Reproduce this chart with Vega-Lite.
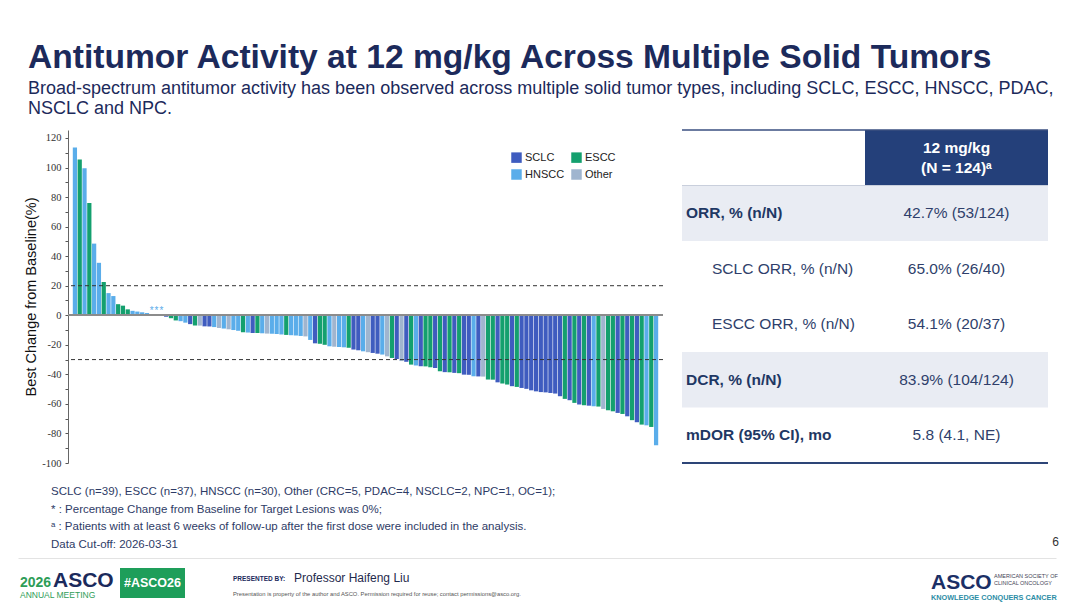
{
  "$schema": "https://vega.github.io/schema/vega-lite/v6.json",
  "background": "white",
  "padding": {"left": 20, "top": 40, "right": 12, "bottom": 6},
  "config": {
    "font": "Liberation Sans",
    "view": {"stroke": null},
    "axisY": {"labelOverlap": false, "labelSeparation": 0, "labelFont": "Liberation Serif", "labelFontSize": 10.5, "labelColor": "#333",
      "tickSize": 3, "tickColor": "#555", "domainColor": "#666", "labelPadding": 4, "titleFont": "Liberation Sans", "titleFontSize": 14.5,
      "titleFontWeight": "normal", "titleColor": "#111", "titlePadding": 3, "grid": false}
  },
  "title": {
    "text": "Antitumor Activity at 12 mg/kg Across Multiple Solid Tumors",
    "subtitle": ["Broad-spectrum antitumor activity has been observed across multiple solid tumor types, including SCLC, ESCC, HNSCC, PDAC,", "NSCLC and NPC."],
    "anchor": "start",
    "frame": "bounds",
    "dx": 8,
    "font": "Liberation Sans",
    "fontSize": 33.6,
    "fontWeight": "bold",
    "color": "#1C2A5B",
    "subtitleFont": "Liberation Sans",
    "subtitleFontSize": 18,
    "subtitleColor": "#1C2A5B",
    "subtitleLineHeight": 20,
    "subtitlePadding": 6,
    "offset": 11
  },
  "spacing": 14,
  "vconcat": [
    {
      "spacing": 17,
      "hconcat": [
        {
          "width": 595,
          "height": 333,
          "data": {"values": [
            {"id":1,"tumor":"HNSCC","change":113.5},{"id":2,"tumor":"ESCC","change":105.5},{"id":3,"tumor":"HNSCC","change":99.5},{"id":4,"tumor":"ESCC","change":76},
            {"id":5,"tumor":"HNSCC","change":48.5},{"id":6,"tumor":"HNSCC","change":35.5},{"id":7,"tumor":"ESCC","change":22.5},{"id":8,"tumor":"HNSCC","change":15},
            {"id":9,"tumor":"HNSCC","change":13},{"id":10,"tumor":"ESCC","change":7.5},{"id":11,"tumor":"ESCC","change":6.5},{"id":12,"tumor":"ESCC","change":4},
            {"id":13,"tumor":"HNSCC","change":3},{"id":14,"tumor":"HNSCC","change":2.5},{"id":15,"tumor":"HNSCC","change":2},{"id":16,"tumor":"HNSCC","change":1.5},
            {"id":17,"tumor":"HNSCC","change":0},{"id":18,"tumor":"SCLC","change":0},{"id":19,"tumor":"HNSCC","change":0},
            {"id":20,"tumor":"SCLC","change":-1},{"id":21,"tumor":"ESCC","change":-2},{"id":22,"tumor":"ESCC","change":-3.5},{"id":23,"tumor":"HNSCC","change":-4},
            {"id":24,"tumor":"HNSCC","change":-5},{"id":25,"tumor":"SCLC","change":-6},{"id":26,"tumor":"ESCC","change":-7},{"id":27,"tumor":"Other","change":-7},
            {"id":28,"tumor":"SCLC","change":-7.5},{"id":29,"tumor":"SCLC","change":-7.6},{"id":30,"tumor":"HNSCC","change":-8},{"id":31,"tumor":"Other","change":-8.6},
            {"id":32,"tumor":"HNSCC","change":-9},{"id":33,"tumor":"Other","change":-9.5},{"id":34,"tumor":"HNSCC","change":-10},{"id":35,"tumor":"HNSCC","change":-10.5},
            {"id":36,"tumor":"ESCC","change":-11.5},{"id":37,"tumor":"HNSCC","change":-11.7},{"id":38,"tumor":"SCLC","change":-12},{"id":39,"tumor":"ESCC","change":-12},
            {"id":40,"tumor":"HNSCC","change":-12.2},{"id":41,"tumor":"Other","change":-12.4},{"id":42,"tumor":"HNSCC","change":-12.5},{"id":43,"tumor":"HNSCC","change":-12.7},
            {"id":44,"tumor":"HNSCC","change":-13},{"id":45,"tumor":"ESCC","change":-13.3},{"id":46,"tumor":"HNSCC","change":-13.5},{"id":47,"tumor":"HNSCC","change":-13.7},
            {"id":48,"tumor":"HNSCC","change":-14},{"id":49,"tumor":"Other","change":-14.3},{"id":50,"tumor":"HNSCC","change":-16.7},{"id":51,"tumor":"SCLC","change":-19},
            {"id":52,"tumor":"ESCC","change":-19.3},{"id":53,"tumor":"ESCC","change":-20},{"id":54,"tumor":"HNSCC","change":-21},{"id":55,"tumor":"Other","change":-21.3},
            {"id":56,"tumor":"HNSCC","change":-21.5},{"id":57,"tumor":"HNSCC","change":-21.7},{"id":58,"tumor":"ESCC","change":-22},{"id":59,"tumor":"SCLC","change":-23.2},
            {"id":60,"tumor":"SCLC","change":-23.7},{"id":61,"tumor":"HNSCC","change":-24.4},{"id":62,"tumor":"Other","change":-25},{"id":63,"tumor":"SCLC","change":-25.5},
            {"id":64,"tumor":"SCLC","change":-26},{"id":65,"tumor":"HNSCC","change":-26.6},{"id":66,"tumor":"Other","change":-27.8},{"id":67,"tumor":"ESCC","change":-28.9},
            {"id":68,"tumor":"SCLC","change":-29.6},{"id":69,"tumor":"Other","change":-31},{"id":70,"tumor":"SCLC","change":-31.5},{"id":71,"tumor":"ESCC","change":-33.4},
            {"id":72,"tumor":"HNSCC","change":-34},{"id":73,"tumor":"SCLC","change":-34.5},{"id":74,"tumor":"ESCC","change":-34.6},{"id":75,"tumor":"ESCC","change":-35.2},
            {"id":76,"tumor":"SCLC","change":-35.7},{"id":77,"tumor":"ESCC","change":-37.9},{"id":78,"tumor":"SCLC","change":-38.5},{"id":79,"tumor":"ESCC","change":-38.6},
            {"id":80,"tumor":"SCLC","change":-39},{"id":81,"tumor":"ESCC","change":-39.2},{"id":82,"tumor":"SCLC","change":-40.2},{"id":83,"tumor":"SCLC","change":-40.3},
            {"id":84,"tumor":"HNSCC","change":-41.3},{"id":85,"tumor":"SCLC","change":-41.4},{"id":86,"tumor":"Other","change":-41.5},{"id":87,"tumor":"ESCC","change":-43.5},
            {"id":88,"tumor":"ESCC","change":-43.6},{"id":89,"tumor":"SCLC","change":-45.4},{"id":90,"tumor":"ESCC","change":-46.2},{"id":91,"tumor":"ESCC","change":-46.9},
            {"id":92,"tumor":"SCLC","change":-48},{"id":93,"tumor":"ESCC","change":-48.5},{"id":94,"tumor":"SCLC","change":-49.2},{"id":95,"tumor":"SCLC","change":-49.8},
            {"id":96,"tumor":"SCLC","change":-50.8},{"id":97,"tumor":"SCLC","change":-51.5},{"id":98,"tumor":"SCLC","change":-52},{"id":99,"tumor":"SCLC","change":-52.2},
            {"id":100,"tumor":"SCLC","change":-52.6},{"id":101,"tumor":"SCLC","change":-53},{"id":102,"tumor":"SCLC","change":-54.8},{"id":103,"tumor":"ESCC","change":-56.6},
            {"id":104,"tumor":"SCLC","change":-57.5},{"id":105,"tumor":"ESCC","change":-59.3},{"id":106,"tumor":"SCLC","change":-60.4},{"id":107,"tumor":"ESCC","change":-60.9},
            {"id":108,"tumor":"SCLC","change":-61.2},{"id":109,"tumor":"HNSCC","change":-61.6},{"id":110,"tumor":"ESCC","change":-61.8},{"id":111,"tumor":"Other","change":-63.4},
            {"id":112,"tumor":"ESCC","change":-64.3},{"id":113,"tumor":"ESCC","change":-65},{"id":114,"tumor":"SCLC","change":-66.1},{"id":115,"tumor":"ESCC","change":-66.8},
            {"id":116,"tumor":"SCLC","change":-68.4},{"id":117,"tumor":"ESCC","change":-71},{"id":118,"tumor":"SCLC","change":-72.4},{"id":119,"tumor":"ESCC","change":-74},
            {"id":120,"tumor":"HNSCC","change":-74.5},{"id":121,"tumor":"ESCC","change":-75.6},{"id":122,"tumor":"HNSCC","change":-88}
          ]},
          "layer": [
            {
              "mark": {"type": "bar"},
              "encoding": {
                "x": {"field": "id", "type": "ordinal", "axis": null, "scale": {"paddingInner": 0.12, "paddingOuter": 1.8, "align": 0.5}},
                "y": {"field": "change", "type": "quantitative",
                  "scale": {"domain": [-100, 125.4], "nice": false},
                  "axis": {"values": [-100,-90,-80,-70,-60,-50,-40,-30,-20,-10,0,10,20,30,40,50,60,70,80,90,100,110,120], "labelExpr": "datum.value % 20 == 0 ? '' + datum.value : ''", "title": "Best Change from Baseline(%)", "labelOverlap": false, "labelFont": "Liberation Serif", "labelFontSize": 10.5}},
                "color": {"field": "tumor", "type": "nominal",
                  "scale": {"domain": ["SCLC", "ESCC", "HNSCC", "Other"], "range": ["#3F5CBF", "#14A06E", "#5AADEA", "#A0B5CF"]},
                  "legend": {"title": null, "orient": "none", "direction": "horizontal", "legendX": 443, "legendY": 22, "columns": 2, "symbolType": "square",
                    "symbolSize": 110, "symbolStrokeWidth": 0, "labelFont": "Liberation Sans", "labelFontSize": 11, "labelColor": "#222",
                    "columnPadding": 6, "rowPadding": 5, "labelOffset": 3}}
              }
            },
            {
              "transform": [{"filter": "datum.change == 0"}],
              "mark": {"type": "text", "text": "*", "dy": -4, "fontSize": 10, "color": "#5AADEA"},
              "encoding": {
                "x": {"field": "id", "type": "ordinal"},
                "y": {"field": "change", "type": "quantitative",
                  "axis": {"values": [-100,-90,-80,-70,-60,-50,-40,-30,-20,-10,0,10,20,30,40,50,60,70,80,90,100,110,120], "labelExpr": "datum.value % 20 == 0 ? '' + datum.value : ''", "title": "Best Change from Baseline(%)", "labelOverlap": false, "labelFont": "Liberation Serif", "labelFontSize": 10.5}}
              }
            },
            {
              "mark": {"type": "rule", "color": "#8C8C8C", "strokeWidth": 1.5},
              "encoding": {"y": {"datum": 0, "type": "quantitative",
                "axis": {"values": [-100,-90,-80,-70,-60,-50,-40,-30,-20,-10,0,10,20,30,40,50,60,70,80,90,100,110,120], "labelExpr": "datum.value % 20 == 0 ? '' + datum.value : ''", "title": "Best Change from Baseline(%)", "labelOverlap": false, "labelFont": "Liberation Serif", "labelFontSize": 10.5}}}
            },
            {
              "data": {"values": [{"threshold": 20}, {"threshold": -30}]},
              "mark": {"type": "rule", "strokeDash": [4, 3], "color": "#333", "strokeWidth": 1},
              "encoding": {"y": {"field": "threshold", "type": "quantitative",
                "axis": {"values": [-100,-90,-80,-70,-60,-50,-40,-30,-20,-10,0,10,20,30,40,50,60,70,80,90,100,110,120], "labelExpr": "datum.value % 20 == 0 ? '' + datum.value : ''", "title": "Best Change from Baseline(%)", "labelOverlap": false, "labelFont": "Liberation Serif", "labelFontSize": 10.5}}}
            }
          ]
        },
        {
          "width": 366,
          "height": 333,
          "data": {"values": [
            {"key": "h", "label": "", "value": "12 mg/kg\n(N = 124)ᵃ", "level": "header"},
            {"key": "orr", "label": "ORR, % (n/N)", "value": "42.7% (53/124)", "level": "main"},
            {"key": "sclc", "label": "SCLC ORR, % (n/N)", "value": "65.0% (26/40)", "level": "sub"},
            {"key": "escc", "label": "ESCC ORR, % (n/N)", "value": "54.1% (20/37)", "level": "sub"},
            {"key": "dcr", "label": "DCR, % (n/N)", "value": "83.9% (104/124)", "level": "main"},
            {"key": "mdor", "label": "mDOR (95% CI), mo", "value": "5.8 (4.1, NE)", "level": "main"}
          ]},
          "encoding": {
            "y": {"field": "key", "type": "nominal", "axis": null,
              "scale": {"type": "band", "domain": ["h", "orr", "sclc", "escc", "dcr", "mdor"], "paddingInner": 0, "paddingOuter": 0}}
          },
          "layer": [
            {
              "transform": [{"filter": "datum.key == 'orr' || datum.key == 'dcr'"}],
              "mark": {"type": "rect", "color": "#E9ECF3"}
            },
            {
              "transform": [{"filter": "datum.level == 'header'"}],
              "mark": {"type": "rect", "color": "#24407A"},
              "encoding": {
                "x": {"datum": "value", "type": "nominal", "axis": null,
                  "scale": {"type": "band", "domain": ["label", "value"], "paddingInner": 0, "paddingOuter": 0}}
              }
            },
            {
              "transform": [{"filter": "datum.level == 'header'"}],
              "mark": {"type": "rule", "color": "#3A4F80", "strokeWidth": 1.5},
              "encoding": {"y": {"field": "key", "type": "nominal", "bandPosition": 0}}
            },
            {
              "transform": [{"filter": "datum.level == 'header'"}],
              "mark": {"type": "rule", "color": "#C9CFDC", "strokeWidth": 1},
              "encoding": {"y": {"field": "key", "type": "nominal", "bandPosition": 1}}
            },
            {
              "transform": [{"filter": "datum.key == 'mdor'"}],
              "mark": {"type": "rule", "color": "#2D4577", "strokeWidth": 2},
              "encoding": {"y": {"field": "key", "type": "nominal", "bandPosition": 1}}
            },
            {
              "transform": [{"filter": "datum.level == 'main'"}],
              "mark": {"type": "text", "align": "left", "baseline": "middle", "dx": 4, "fontSize": 15.5, "fontWeight": "bold", "color": "#1F3864"},
              "encoding": {
                "x": {"datum": "label", "type": "nominal", "bandPosition": 0},
                "text": {"field": "label"}
              }
            },
            {
              "transform": [{"filter": "datum.level == 'sub'"}],
              "mark": {"type": "text", "align": "left", "baseline": "middle", "dx": 30, "fontSize": 15.5, "color": "#2F3F6B"},
              "encoding": {
                "x": {"datum": "label", "type": "nominal", "bandPosition": 0},
                "text": {"field": "label"}
              }
            },
            {
              "transform": [{"filter": "datum.level != 'header'"}],
              "mark": {"type": "text", "align": "center", "baseline": "middle", "fontSize": 15.5, "color": "#2F3F6B"},
              "encoding": {
                "x": {"datum": "value", "type": "nominal"},
                "text": {"field": "value"}
              }
            },
            {
              "transform": [{"filter": "datum.level == 'header'"}],
              "mark": {"type": "text", "align": "center", "baseline": "middle", "dy": -10, "fontSize": 15.5, "fontWeight": "bold", "color": "white", "lineBreak": "\n", "lineHeight": 20},
              "encoding": {
                "x": {"datum": "value", "type": "nominal"},
                "text": {"field": "value"}
              }
            }
          ]
        }
      ]
    },
    {
      "spacing": 10,
      "vconcat": [
        {
          "width": 988,
          "height": 75,
          "layer": [
            {
              "data": {"values": [
                {"line": 1, "text": "SCLC (n=39), ESCC (n=37), HNSCC (n=30), Other (CRC=5, PDAC=4, NSCLC=2, NPC=1, OC=1);"},
                {"line": 2, "text": "* : Percentage Change from Baseline for Target Lesions was 0%;"},
                {"line": 3, "text": "ᵃ : Patients with at least 6 weeks of follow-up after the first dose were included in the analysis."},
                {"line": 4, "text": "Data Cut-off: 2026-03-31"}
              ]},
              "mark": {"type": "text", "align": "left", "baseline": "middle", "dx": 33, "fontSize": 11.5, "color": "#2E3B66"},
              "encoding": {
                "x": {"datum": "note", "type": "nominal", "bandPosition": 0,
                  "scale": {"type": "band", "domain": ["note", "page"], "range": [-50, 988], "paddingInner": 0, "paddingOuter": 0},
                  "axis": {"orient": "bottom", "domain": true, "domainColor": "#E3E3E3", "domainWidth": 1, "ticks": false, "labels": false, "title": null, "grid": false}},
                "y": {"field": "line", "type": "ordinal", "axis": null,
                  "scale": {"type": "band", "paddingInner": 0, "paddingOuter": 0.12, "align": 0}},
                "text": {"field": "text"}
              }
            },
            {
              "data": {"values": [{"page": "6"}]},
              "mark": {"type": "text", "align": "right", "baseline": "middle", "dx": 3, "dy": -3, "fontSize": 12, "color": "#333"},
              "encoding": {
                "x": {"datum": "page", "type": "nominal", "bandPosition": 1},
                "y": {"datum": 4, "type": "ordinal"},
                "text": {"field": "page"}
              }
            }
          ]
        },
        {
          "spacing": 5,
          "hconcat": [
            {
              "width": 47,
              "height": 32,
              "data": {"values": [
                {"part": "year", "label": "2026"},
                {"part": "org", "label": "ASCO"},
                {"part": "meeting", "label": "ANNUAL MEETING"}
              ]},
              "layer": [
                {
                  "transform": [{"filter": "datum.part == 'year'"}],
                  "mark": {"type": "text", "align": "left", "baseline": "alphabetic", "dx": -71.5, "dy": 3, "fontSize": 14, "fontWeight": "bold", "color": "#2E9D57"},
                  "encoding": {"text": {"field": "label"}}
                },
                {
                  "transform": [{"filter": "datum.part == 'org'"}],
                  "mark": {"type": "text", "align": "left", "baseline": "alphabetic", "dx": -38.5, "dy": 3, "fontSize": 21, "fontWeight": "bold", "color": "#1B2A5C"},
                  "encoding": {"text": {"field": "label"}}
                },
                {
                  "transform": [{"filter": "datum.part == 'meeting'"}],
                  "mark": {"type": "text", "align": "left", "baseline": "alphabetic", "dx": -71.5, "dy": 14, "fontSize": 8.5, "color": "#2E9D57"},
                  "encoding": {"text": {"field": "label"}}
                }
              ]
            },
            {
              "width": 65,
              "height": 30,
              "view": {"fill": "#1E9E5A", "stroke": null},
              "data": {"values": [{"label": "#ASCO26"}]},
              "mark": {"type": "text", "align": "center", "baseline": "middle", "fontSize": 12.5, "fontWeight": "bold", "color": "white"},
              "encoding": {"text": {"field": "label"}}
            },
            {
              "width": 866,
              "height": 32,
              "data": {"values": [
                {"part": "by", "label": "PRESENTED BY:"},
                {"part": "name", "label": "Professor Haifeng Liu"},
                {"part": "note", "label": "Presentation is property of the author and ASCO. Permission required for reuse; contact permissions@asco.org."},
                {"part": "logo", "label": "ASCO"},
                {"part": "soc1", "label": "AMERICAN SOCIETY OF"},
                {"part": "soc2", "label": "CLINICAL ONCOLOGY"},
                {"part": "motto", "label": "KNOWLEDGE CONQUERS CANCER"}
              ]},
              "layer": [
                {
                  "transform": [{"filter": "datum.part == 'by'"}],
                  "mark": {"type": "text", "align": "left", "baseline": "alphabetic", "dx": -390, "dy": -3, "fontSize": 6.5, "fontWeight": "bold", "color": "#1B2A5C"},
                  "encoding": {"text": {"field": "label"}}
                },
                {
                  "transform": [{"filter": "datum.part == 'name'"}],
                  "mark": {"type": "text", "align": "left", "baseline": "alphabetic", "dx": -329, "dy": -2, "fontSize": 12, "color": "#1F2A4D"},
                  "encoding": {"text": {"field": "label"}}
                },
                {
                  "transform": [{"filter": "datum.part == 'note'"}],
                  "mark": {"type": "text", "align": "left", "baseline": "alphabetic", "dx": -390, "dy": 12, "fontSize": 5.8, "color": "#555"},
                  "encoding": {"text": {"field": "label"}}
                },
                {
                  "transform": [{"filter": "datum.part == 'logo'"}],
                  "mark": {"type": "text", "align": "left", "baseline": "alphabetic", "dx": 308, "dy": 5, "fontSize": 21, "fontWeight": "bold", "color": "#1B2F66"},
                  "encoding": {"text": {"field": "label"}}
                },
                {
                  "transform": [{"filter": "datum.part == 'soc1'"}],
                  "mark": {"type": "text", "align": "left", "baseline": "alphabetic", "dx": 371, "dy": -6, "fontSize": 5.5, "color": "#445"},
                  "encoding": {"text": {"field": "label"}}
                },
                {
                  "transform": [{"filter": "datum.part == 'soc2'"}],
                  "mark": {"type": "text", "align": "left", "baseline": "alphabetic", "dx": 371, "dy": 1, "fontSize": 5.5, "color": "#445"},
                  "encoding": {"text": {"field": "label"}}
                },
                {
                  "transform": [{"filter": "datum.part == 'motto'"}],
                  "mark": {"type": "text", "align": "left", "baseline": "alphabetic", "dx": 308, "dy": 16, "fontSize": 7.3, "fontWeight": "bold", "color": "#2C8DA6"},
                  "encoding": {"text": {"field": "label"}}
                }
              ]
            }
          ]
        }
      ]
    }
  ]
}
